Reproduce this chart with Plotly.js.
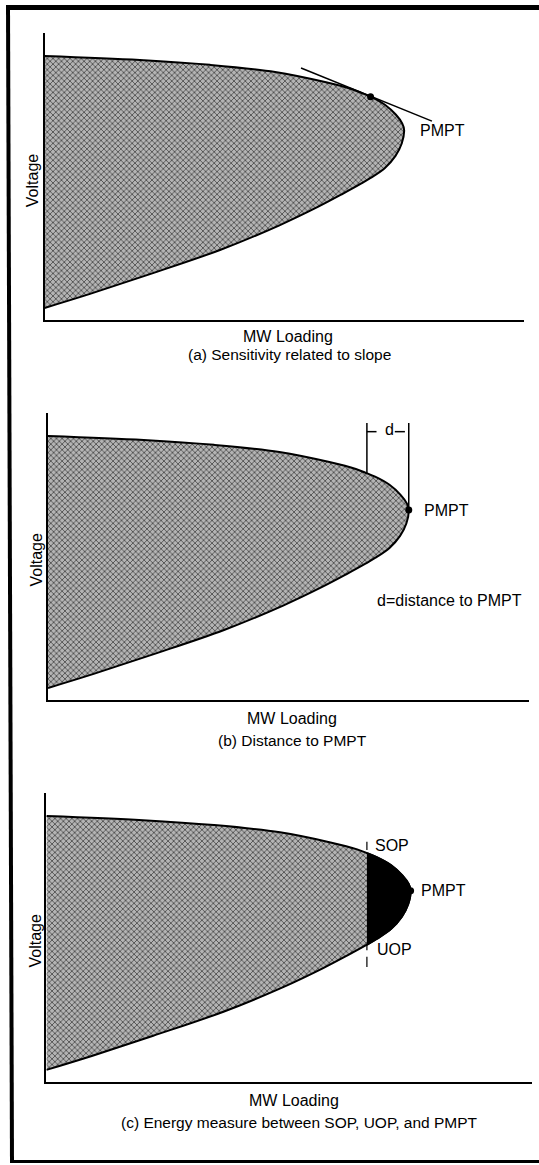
<!DOCTYPE html>
<html><head><meta charset="utf-8">
<script src="https://cdn.plot.ly/plotly-3.0.1.min.js"></script>
<style>html,body{margin:0;padding:0;background:#fff;} #chart{width:539px;height:1165px;}</style>
</head><body><div id="chart"></div>
<script>
// ---- Data (relative units: MW loading 0-100, voltage 0-100) ----
const upperMW = [0, 19.9, 34.5, 48.1, 58.5, 64, 66, 68, 71, 73.3, 74.6, 75];
const upperV  = [92, 90.6, 88.9, 86.4, 82.9, 80.5, 79.2, 77.8, 75, 71.5, 68.5, 66.2];
const lowerMW = [74.5, 73.2, 71, 68, 66, 62, 57, 49, 36.6, 22, 9.5, 0];
const lowerV  = [61.5, 57.2, 53, 49.5, 47.5, 43.8, 39.4, 33, 24.4, 16, 9.1, 4.2];
const pmptMW = [75], pmptV = [66.2];
const slopeMW = [68], slopeV = [77.8];
const tangentMW = [53.5, 80.8], tangentV = [87.8, 69.3];
const sopMW = 66, sopV = 79.2, uopV = 47.5;
const sopTickV = [80.3, 83.1];
const uopTick1V = [47.5, 45.6], uopTick2V = [43.3, 39.8];
const dLeftMW = 66.3, dLeftV = 79.0, dTopV = 96.5, dLineV = 93.5;
const dTickMW = [66.3, 68.3], dDashMW = [72.1, 74.2], dTextMW = 70.9;
const noteMW = 68.0, noteV = 34.8;

const xTitle = 'MW Loading', yTitle = 'Voltage', pointLabel = 'PMPT';
const captions = ['(a) Sensitivity related to slope', '(b) Distance to PMPT',
                  '(c) Energy measure between SOP, UOP, and PMPT'];
const dNote = 'd=distance to PMPT';

// ---- Layout geometry (pixels) ----
const W = 539, H = 1165;
const FONT = 'Liberation Sans, Arial, Helvetica, sans-serif';
const FS = 16, FSC = 15.5;
const panels = [
  {px:[44.5,524], py:[33,320],  vx:32.7, mwx:288, mwy:336, capx:289, capy:355},
  {px:[48,529],   py:[413,700], vx:36,   mwx:292, mwy:718, capx:292, capy:740},
  {px:[46.4,532], py:[793,1082],vx:35,   mwx:294, mwy:1100, capx:299, capy:1122}
];
const pxX = v => v / W, pxY = v => 1 - v / H;

const curveMW = upperMW.concat(lowerMW);
const curveV  = upperV.concat(lowerV);

const traces = [], annotations = [], layout = {
  width: W, height: H, margin:{l:0,r:0,t:0,b:0}, showlegend:false,
  paper_bgcolor:'#fff', plot_bgcolor:'rgba(0,0,0,0)', font:{family:FONT, size:FS, color:'#000'}
};

panels.forEach((p, i) => {
  const n = i === 0 ? '' : String(i + 1);
  const xa = 'x' + n, ya = 'y' + n;
  const axBase = {showgrid:false, zeroline:false, showticklabels:false, ticks:'',
                  showline:true, linecolor:'#000', linewidth:2, range:[0,100], fixedrange:true};
  layout['xaxis' + n] = Object.assign({}, axBase, {domain:[pxX(p.px[0]), pxX(p.px[1])], anchor: ya});
  layout['yaxis' + n] = Object.assign({}, axBase, {domain:[pxY(p.py[1]), pxY(p.py[0])], anchor: xa});

  traces.push({x: curveMW, y: curveV, xaxis: xa, yaxis: ya, type:'scatter', mode:'lines',
    fill:'toself', fillcolor:'#a8a8a8',
    fillpattern:{shape:'x', size:4, solidity:0.3, fgcolor:'#2a2a2a', bgcolor:'#b4b4b4'},
    line:{color:'#000', width:2, shape:'spline', smoothing:1}, hoverinfo:'skip'});

  annotations.push({xref:'paper', yref:'paper', x:pxX(p.vx), y:pxY((p.py[0]+p.py[1])/2+4),
    text:yTitle, textangle:-90, showarrow:false, xanchor:'center', yanchor:'middle', font:{size:FS}});
  annotations.push({xref:'paper', yref:'paper', x:pxX(p.mwx), y:pxY(p.mwy),
    text:xTitle, showarrow:false, xanchor:'center', yanchor:'middle', font:{size:FS}});
  annotations.push({xref:'paper', yref:'paper', x:pxX(p.capx), y:pxY(p.capy),
    text:captions[i], showarrow:false, xanchor:'center', yanchor:'middle', font:{size:FSC}});

  const lbl = i === 2 ? 76.7 : 77.8;
  annotations.push({xref:xa, yref:ya, x:lbl, y:pmptV[0], text:pointLabel, showarrow:false,
    xanchor:'left', yanchor:'middle', font:{size:FS}});
});

// Panel (a): tangent and slope point
traces.push({x:tangentMW, y:tangentV, xaxis:'x', yaxis:'y', mode:'lines', line:{color:'#000', width:1.5}, hoverinfo:'skip'});
traces.push({x:slopeMW, y:slopeV, xaxis:'x', yaxis:'y', mode:'markers', marker:{color:'#000', size:7}, hoverinfo:'skip'});

// Panel (b): distance bracket and PMPT point
const seg = (x, y, xa, ya, w) => traces.push({x, y, xaxis:xa, yaxis:ya, mode:'lines',
  line:{color:'#000', width:w || 1.5}, hoverinfo:'skip'});
seg([dLeftMW, dLeftMW], [dLeftV, dTopV], 'x2', 'y2');
seg([pmptMW[0], pmptMW[0]], [pmptV[0], dTopV], 'x2', 'y2');
seg(dTickMW, [dLineV, dLineV], 'x2', 'y2');
seg(dDashMW, [dLineV, dLineV], 'x2', 'y2');
annotations.push({xref:'x2', yref:'y2', x:dTextMW, y:dLineV+0.6, text:'d', showarrow:false,
  xanchor:'center', yanchor:'middle', font:{size:FS}});
annotations.push({xref:'x2', yref:'y2', x:noteMW, y:noteV, text:dNote, showarrow:false,
  xanchor:'left', yanchor:'middle', font:{size:FS}});
traces.push({x:pmptMW, y:pmptV, xaxis:'x2', yaxis:'y2', mode:'markers', marker:{color:'#000', size:7}, cliponaxis:false, hoverinfo:'skip'});

// Panel (c): black energy region between SOP/UOP and PMPT
const regMW = [], regV = [];
curveMW.forEach((m, k) => { if (m >= sopMW) { regMW.push(m); regV.push(curveV[k]); } });
traces.push({x:regMW, y:regV, xaxis:'x3', yaxis:'y3', mode:'lines', fill:'toself', fillcolor:'#000',
  line:{color:'#000', width:2, shape:'spline', smoothing:1}, hoverinfo:'skip'});
traces.push({x:pmptMW, y:pmptV, xaxis:'x3', yaxis:'y3', mode:'markers', marker:{color:'#000', size:7}, cliponaxis:false, hoverinfo:'skip'});
seg([sopMW, sopMW], sopTickV, 'x3', 'y3', 1.2);
seg([sopMW, sopMW], uopTick1V, 'x3', 'y3', 1.2);
seg([sopMW, sopMW], uopTick2V, 'x3', 'y3', 1.2);
annotations.push({xref:'x3', yref:'y3', x:67.3, y:82.0, text:'SOP', showarrow:false,
  xanchor:'left', yanchor:'middle', font:{size:FS}});
annotations.push({xref:'x3', yref:'y3', x:67.7, y:46.0, text:'UOP', showarrow:false,
  xanchor:'left', yanchor:'middle', font:{size:FS}});

// Outer frame (left, top, bottom)
layout.shapes = [
  {type:'line', xref:'paper', yref:'paper', x0:pxX(6), y0:pxY(7.5), x1:pxX(539), y1:pxY(7.5), line:{color:'#000', width:5}},
  {type:'line', xref:'paper', yref:'paper', x0:pxX(8), y0:pxY(5), x1:pxX(12), y1:pxY(1163), line:{color:'#000', width:4}},
  {type:'line', xref:'paper', yref:'paper', x0:pxX(10), y0:pxY(1161.5), x1:pxX(539), y1:pxY(1161.5), line:{color:'#000', width:3}}
];
layout.annotations = annotations;

Plotly.newPlot('chart', traces, layout, {staticPlot:true, displayModeBar:false});
</script></body></html>
